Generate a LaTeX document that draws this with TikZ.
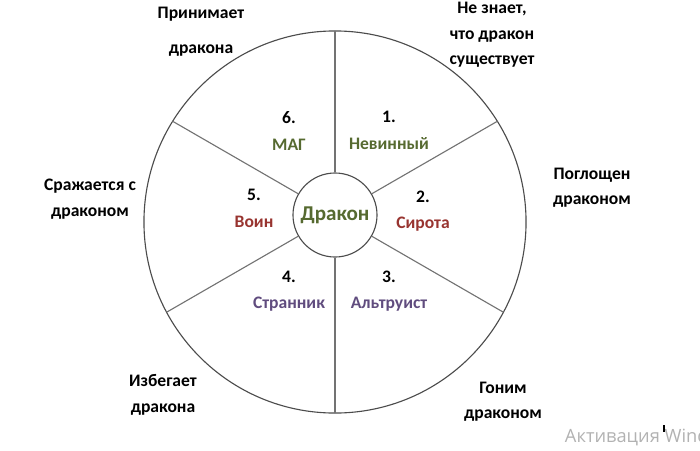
\documentclass[tikz,border=0pt]{standalone}
\usepackage{fontspec}
\setmainfont{Carlito}
\newfontfamily\winfont{Open Sans}
\usepackage{tikz}

\definecolor{olivetext}{RGB}{86,106,48}
\definecolor{redtext}{RGB}{152,52,48}
\definecolor{violettext}{RGB}{96,76,126}

\begin{document}
\begin{tikzpicture}[x=0.025cm, y=-0.025cm,
    font=\bfseries\fontsize{12.5}{18}\selectfont,
    stage/.style={align=center, inner sep=1pt},
    spoke/.style={draw=black!55, line width=0.8pt}]

    % Define parameters
    \def\outerR{4.775cm}  % outer ring, 191 px
    \def\innerD{2.1cm}    % core circle, 84 px

    \useasboundingbox (0,0) rectangle (700,450);

    % Rings
    \coordinate (ring) at (335,222);
    \draw[black!70, line width=0.8pt] (ring) circle[radius=\outerR];
    \node[circle, draw=black!70, line width=0.8pt, minimum size=\innerD, inner sep=0pt,
          text=olivetext, font=\bfseries\fontsize{15}{18}\selectfont] (dragon) at (335,215) {Дракон};

    % Six spokes, cut at the outer ring
    \begin{scope}
        \clip (ring) circle[radius=\outerR];
        \foreach \a in {90,30,-30,-90,-150,-210} {
            \draw[spoke] (dragon.\a) -- ++(\a:6cm);
        }
    \end{scope}

    % Stages inside the ring
    \foreach \n/\x/\y/\name/\col in {1/389/117/Невинный/olivetext,
                                     2/423/197/Сирота/redtext,
                                     3/389/277/Альтруист/violettext,
                                     4/289/277/Странник/violettext,
                                     5/254/195/Воин/redtext,
                                     6/289/118/МАГ/olivetext} {
        \node (num\n) at (\x,\y) {\n.};
        \node[text=\col] (role\n) at (\x,\y+27) {\name};
    }

    % Attitudes outside the ring
    \node[stage] (accepts)  at (201,32)  {Принимает\\[7pt]дракона};
    \node[stage] (unaware)  at (492,35)  {Не знает,\\что дракон\\существует};
    \node[stage] (absorbed) at (592,188) {Поглощен\\драконом};
    \node[stage] (fights)   at (90,199)  {Сражается с\\драконом};
    \node[stage] (avoids)   at (163,395) {Избегает\\дракона};
    \node[stage] (chased)   at (503,402) {Гоним\\драконом};

    % Screen watermark
    \node[anchor=west, text=black!30, font=\winfont\fontsize{13}{15}\selectfont] (mark) at (560,437) {Активация Windows};
    \draw[line width=1.3pt] (664,425) -- (664,432);

\end{tikzpicture}
\end{document}
